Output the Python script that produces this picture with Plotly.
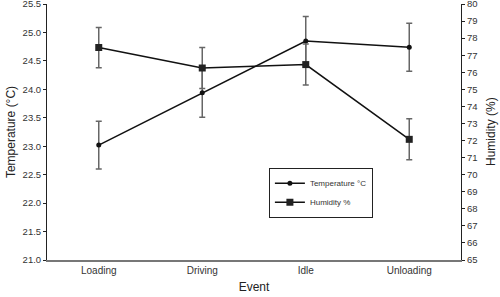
import plotly.graph_objects as go

events = ["Loading", "Driving", "Idle", "Unloading"]
temperature = [23.02, 23.94, 24.85, 24.74]
temperature_err = [0.42, 0.43, 0.43, 0.42]
humidity = [77.45, 76.25, 76.45, 72.07]
humidity_err = [1.18, 1.2, 1.2, 1.2]

left_ticks = [21.0 + 0.5 * i for i in range(10)]
right_ticks = list(range(65, 81))

fig = go.Figure()
fig.add_trace(go.Scatter(
    x=events, y=temperature, name="Temperature \u00b0C", mode="lines+markers",
    line=dict(color="#111", width=1.5),
    marker=dict(symbol="circle", size=5, color="#111"),
    error_y=dict(type="data", array=temperature_err, color="#666", thickness=1.5, width=3),
))
fig.add_trace(go.Scatter(
    x=events, y=humidity, name="Humidity %", mode="lines+markers", yaxis="y2",
    line=dict(color="#111", width=1.5),
    marker=dict(symbol="square", size=7, color="#222"),
    error_y=dict(type="data", array=humidity_err, color="#666", thickness=1.5, width=3),
))

font = dict(family="Liberation Sans, Arial, sans-serif", color="#333")
tfont = dict(family="Liberation Sans, Arial, sans-serif", color="#222", size=12)
fig.update_layout(
    width=500, height=297,
    margin=dict(l=47, r=39, t=4, b=37, autoexpand=False),
    paper_bgcolor="white", plot_bgcolor="white",
    font=dict(size=10, **font),
    showlegend=True,
    legend=dict(x=0.536, y=0.36, xanchor="left", yanchor="top",
                bordercolor="#222", borderwidth=1, bgcolor="white",
                font=dict(size=8, **font), itemwidth=30, tracegroupgap=0),
    xaxis=dict(type="category", range=[-0.5, 3.5], showline=True, linecolor="#777", linewidth=2,
               ticks="", ticklen=0, ticklabelstandoff=0, showgrid=False, zeroline=False,
               automargin=False,
               title=dict(text="Event", font=tfont, standoff=8),
               tickfont=dict(size=10, **font)),
    yaxis=dict(range=[21.0, 25.5], tickvals=left_ticks, ticktext=[f"{v:.1f}" for v in left_ticks],
               showline=True, linecolor="#222", linewidth=1, ticks="outside", ticklen=3,
               tickcolor="#222", showgrid=False, zeroline=False, ticklabeloverflow="allow",
               automargin=False,
               title=dict(text="Temperature (\u00b0C)", font=tfont, standoff=4),
               tickfont=dict(size=9.5, **font)),
    yaxis2=dict(range=[65, 80], tickvals=right_ticks, overlaying="y", side="right",
                showline=True, linecolor="#222", linewidth=1, ticks="outside", ticklen=3,
                tickcolor="#222", showgrid=False, zeroline=False, ticklabeloverflow="allow",
                automargin=False,
                tickfont=dict(size=9.5, **font)),
    annotations=[dict(text="Humidity (%)", xref="paper", yref="paper", x=1.0, y=0.5,
                      xshift=30, textangle=-90, showarrow=False, font=tfont,
                      xanchor="center", yanchor="middle")],
)
fig.write_html("out.html", config={"displayModeBar": False})

with open("out.html", encoding="utf-8") as f:
    html = f.read()
html = html.replace("<head>", "<head><style>html,body{margin:0;padding:0;overflow:hidden;}</style>", 1)
with open("out.html", "w", encoding="utf-8") as f:
    f.write(html)
